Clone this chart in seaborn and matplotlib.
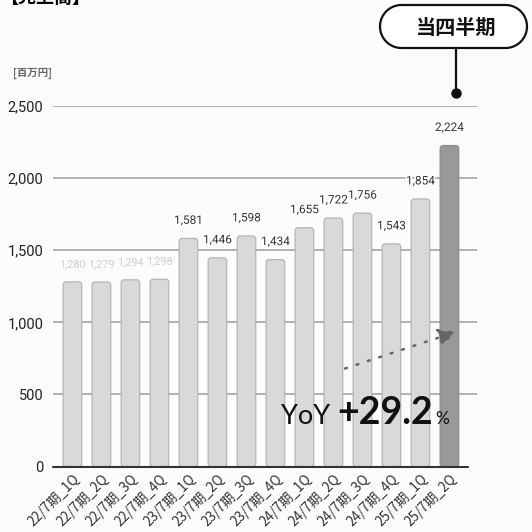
import matplotlib
matplotlib.use("Agg")
import matplotlib.pyplot as plt
import matplotlib.patheffects as pe
from matplotlib.patches import FancyBboxPatch, PathPatch
from matplotlib.path import Path
import numpy as np
import seaborn as sns
import pandas as pd

# Quarterly revenue (million yen)
quarters = ["22/7期_1Q", "22/7期_2Q", "22/7期_3Q", "22/7期_4Q",
            "23/7期_1Q", "23/7期_2Q", "23/7期_3Q", "23/7期_4Q",
            "24/7期_1Q", "24/7期_2Q", "24/7期_3Q", "24/7期_4Q",
            "25/7期_1Q", "25/7期_2Q"]
revenue = [1280, 1279, 1294, 1298,
           1581, 1446, 1598, 1434,
           1655, 1722, 1756, 1543,
           1854, 2224]
y_ticks = [0, 500, 1000, 1500, 2000, 2500]
yoy_text = "+29.2"

sns.set_theme(style="white")
plt.rcParams["font.family"] = ["Roboto", "Noto Sans CJK JP", "DejaVu Sans"]
CJK = ["Noto Sans CJK JP", "DejaVu Sans"]

W = H = 532
fig = plt.figure(figsize=(W / 100, H / 100), dpi=100, facecolor="#fcfcfc")
left, right, top, bottom = 53, 477, 105.7, 466.7
ax = fig.add_axes([left / W, 1 - bottom / H, (right - left) / W, (bottom - top) / H])
ax.set_facecolor("#fcfcfc")

df = pd.DataFrame({"quarter": quarters, "revenue": revenue})
colors = ["#d9d9d9"] * (len(quarters) - 1) + ["#999999"]
sns.barplot(data=df, x="quarter", y="revenue", hue="quarter", palette=colors,
            legend=False, width=0.64, ax=ax, zorder=3)

ax.set_xlim(-0.67, 13.95)
ax.set_ylim(0, 2500)

# Round the top of every bar
for p, c in zip(list(ax.patches), colors):
    x0, w, h = p.get_x(), p.get_width(), p.get_height()
    p.remove()
    edge = "#b5b5b5" if c != "#999999" else "#8c8c8c"
    fb = FancyBboxPatch((x0, 0), w, h, boxstyle="round,pad=0,rounding_size=0.1",
                        mutation_aspect=205, facecolor=c, edgecolor=edge,
                        linewidth=0.9, zorder=3)
    ax.add_patch(fb)

# Gridlines and baseline
for t in y_ticks[1:]:
    ax.axhline(t, color="#b0b0b0", linewidth=1.4, zorder=1)
ax.plot([-0.67, 13.63], [0, 0], color="#333333", linewidth=1.5, zorder=4, clip_on=False)

for s in ax.spines.values():
    s.set_visible(False)
ax.set_yticks(y_ticks)
ax.set_yticklabels([f"{t:,}" for t in y_ticks], fontsize=10.5, color="#222222")
ax.tick_params(axis="y", length=0, pad=7)
ax.set_xticks(range(len(quarters)))
ax.set_xticklabels(quarters, rotation=45, ha="right", rotation_mode="anchor",
                   fontsize=9.8, color="#333333", family=CJK)
ax.tick_params(axis="x", length=0, pad=4)
ax.set_xlabel("")
ax.set_ylabel("")

# Value labels with white halo (the first year's labels are faded)
for i, v in enumerate(revenue):
    faint = i < 4
    ax.annotate(f"{v:,}", (i, v), xytext=(0, 13), textcoords="offset points",
                ha="center", va="center", fontsize=7.8 if faint else 8.5,
                color="#cfcfcf" if faint else "#333333", zorder=6,
                path_effects=[] if faint else [pe.withStroke(linewidth=2.5, foreground="white")])

# Unit label
fig.text(13 / W, 1 - 73 / H, "[百万円]", fontsize=7.5, color="#666666",
         family=CJK, va="center", ha="left", weight="bold")

# Section title (runs off the top edge)
fig.text(0, 1 - 3 / H, "【売上高】", fontsize=13, color="#000000", weight="bold",
         family=CJK, va="baseline", ha="left")

# Current-quarter callout: pill outline built from two half circles
r = 21.5
cy = 26.5
cl, cr = 380 + r, 527 - r
theta_r = np.linspace(np.pi / 2, -np.pi / 2, 40)
theta_l = np.linspace(-np.pi / 2, -3 * np.pi / 2, 40)
xs = np.concatenate([cr + r * np.cos(theta_r), cl + r * np.cos(theta_l)])
ys = np.concatenate([cy - r * np.sin(theta_r), cy - r * np.sin(theta_l)])
verts = np.column_stack([xs / W, 1 - ys / H])
verts = np.vstack([verts, verts[:1]])
codes = [Path.MOVETO] + [Path.LINETO] * (len(verts) - 2) + [Path.CLOSEPOLY]
fig.patches.append(PathPatch(Path(verts, codes), transform=fig.transFigure,
                             facecolor="white", edgecolor="#111111", linewidth=1.6))
fig.text(456 / W, 1 - 27 / H, "当四半期", fontsize=14.5, weight="bold", color="#111111",
         family=CJK, ha="center", va="center")
fig.add_artist(plt.Line2D([456 / W, 456 / W], [1 - 48 / H, 1 - 92 / H],
                          color="#111111", linewidth=1.6, transform=fig.transFigure))
fig.add_artist(plt.Line2D([456 / W], [1 - 93 / H], marker="o", markersize=6.5,
                          color="#111111", transform=fig.transFigure))

# Growth arrow
ax.annotate("", xy=(13.25, 935), xytext=(9.4, 680),
            arrowprops=dict(arrowstyle="-|>,head_length=0.9,head_width=0.45",
                            linestyle=(0, (0.8, 4)), color="#666666", linewidth=1.8,
                            capstyle="round", shrinkA=0, shrinkB=0), zorder=7)

# YoY text
base_y = 1 - 424 / H
fig.text(281 / W, base_y, "YoY", fontsize=19.5, color="#111111", family="Lato",
         va="baseline", ha="left")
fig.text(337 / W, base_y, yoy_text, fontsize=27, color="#111111", family="Lato",
         weight="bold", va="baseline", ha="left")
fig.text(435 / W, base_y, "%", fontsize=12.5, color="#111111", family="Lato",
         va="baseline", ha="left")

fig.savefig("out.png", dpi=100, facecolor=fig.get_facecolor())
